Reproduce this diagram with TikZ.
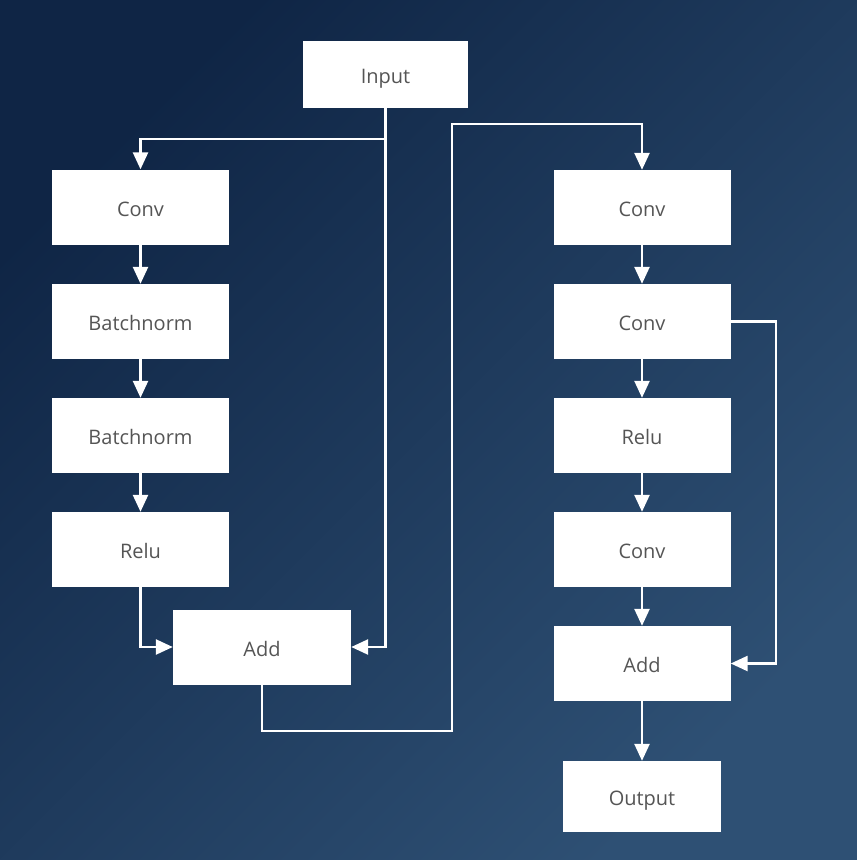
\documentclass[tikz,border=0pt]{standalone}
\usepackage{fontspec}
\setmainfont{Open Sans}
\usetikzlibrary{arrows.meta}
\definecolor{bgdark}{HTML}{0F2545}
\definecolor{bglight}{HTML}{2E5074}
\definecolor{boxtext}{HTML}{555555}
\begin{document}
\begin{tikzpicture}[x=1pt,y=-1pt,
    block/.style={fill=white, minimum width=177pt, minimum height=75pt,
      inner sep=0pt, text height=18pt, text depth=0pt, text=boxtext,
      font=\fontsize{20}{24}\selectfont},
    link/.style={draw=white, line width=2.5pt},
    flow/.style={link, -{Triangle[length=17pt,width=15pt]}}]
  % background
  \shade[top color=bgdark, bottom color=bglight, shading angle=45]
    (0,0) rectangle (857,860);
  \useasboundingbox (0,0) rectangle (857,860);

  \node[block, minimum width=165pt, minimum height=67pt] (input) at (385.5,74.5) {Input};

  % left branch
  \node[block] (conv1) at (140.5,207) {Conv};
  \node[block] (bn1) at (140.5,321.5) {Batchnorm};
  \node[block] (bn2) at (140.5,435.5) {Batchnorm};
  \node[block] (relu1) at (140.5,549.5) {Relu};
  \node[block, minimum width=178pt] (add1) at (262,647) {Add};

  % right branch
  \node[block] (conv2) at (642,207.5) {Conv};
  \node[block] (conv3) at (642,321.5) {Conv};
  \node[block] (relu2) at (642,435.5) {Relu};
  \node[block] (conv4) at (642,549.5) {Conv};
  \node[block] (add2) at (642,663.5) {Add};
  \node[block, minimum width=158pt, minimum height=71pt] (output) at (642,796.5) {Output};

  \coordinate (split) at (385.5,139);
  \coordinate (low) at (452,731);
  \coordinate (high) at (452,124);
  \coordinate (skip) at (776,500);

  \draw[flow] (input.south) -- (input.south |- add1.east) -- (add1.east);
  \draw[flow] (split) -| (conv1.north);
  \foreach \a/\b in {conv1/bn1, bn1/bn2, bn2/relu1, conv2/conv3, conv3/relu2,
                     relu2/conv4, conv4/add2, add2/output}
    \draw[flow] (\a) -- (\b);
  \draw[flow] (relu1.south) |- (add1.west);
  \draw[flow] (add1.south) |- (low) -- (high) -| (conv2.north);
  \draw[flow] (conv3.east) -| (skip) |- (add2.east);
\end{tikzpicture}
\end{document}
